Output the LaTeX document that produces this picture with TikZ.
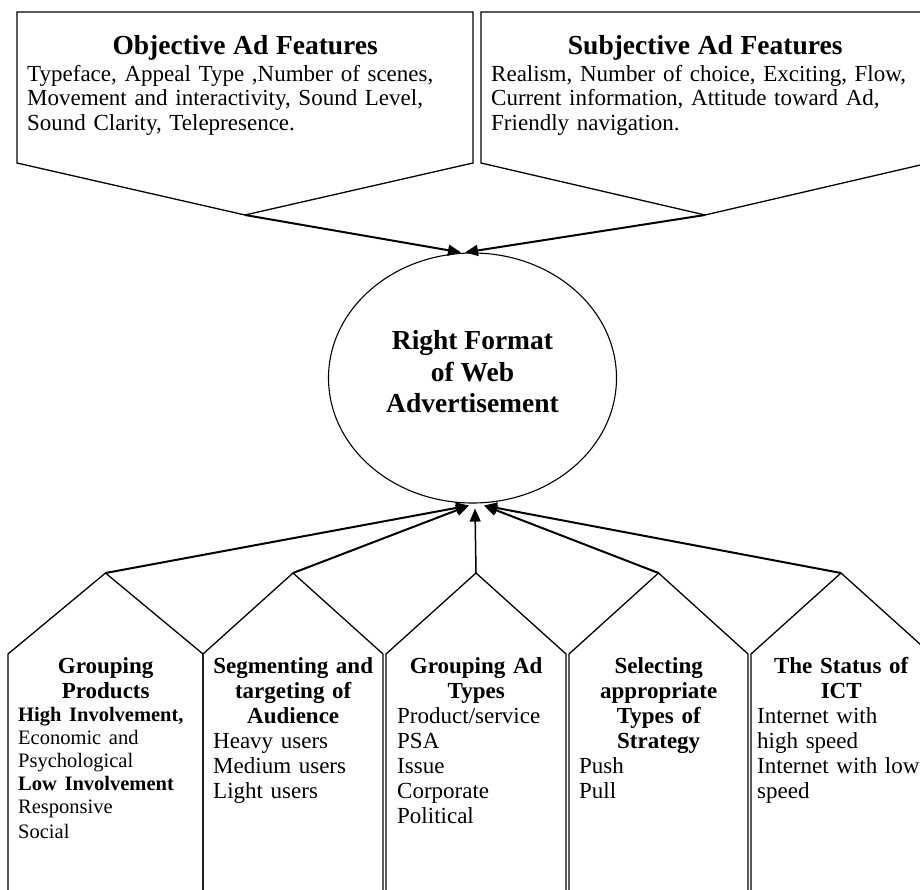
\documentclass[tikz,border=0pt]{standalone}
\usepackage{fontspec}
\setmainfont{Liberation Serif}
\usepackage{tikz}
\usetikzlibrary{arrows.meta,shapes.geometric}

\newcommand{\boxttl}[1]{{\centering\bfseries #1\par}}

\begin{document}
\begin{tikzpicture}[x=1pt, y=-1pt,
    boxline/.style={line width=1.3pt, line join=miter},
    arr/.style={line width=2pt, -{Triangle[length=13pt,width=11pt]}},
    txt/.style={anchor=north west, inner sep=0pt, align=left, font=\fontsize{23}{25}\selectfont},
    toptxt/.style={txt, font=\fontsize{23}{24.5}\selectfont}]
    \useasboundingbox (0,0) rectangle (920,890);
    \clip (0,0) rectangle (920,890);

    \draw[boxline] (17,163) -- (17,12) -- (473,12) -- (473,163) -- (245,215) -- cycle;
    \draw[boxline] (481,163) -- (481,12) -- (929,12) -- (929,163) -- (705,215) -- cycle;
    \coordinate (objpt) at (245,215);
    \coordinate (subjpt) at (705,215);

    \foreach \l/\r/\n in {8/203/a, 203/383/b, 386/566/c, 569/748/d, 751/931/e} {
        \draw[boxline] (\l,900) -- (\l,654) -- ({(\l+\r)/2},573) -- (\r,654) -- (\r,900);
        \coordinate (top\n) at ({(\l+\r)/2},573);
    }

    \node[draw, ellipse, line width=1.1pt, minimum width=288pt, minimum height=250pt, inner sep=0pt] (fmt) at (472.5,378) {};
    \node[align=center, inner sep=0pt, font=\bfseries\fontsize{27.5}{31.5}\selectfont] (fmtlbl) at ([yshift=6pt]fmt.center) {Right Format\\of Web\\Advertisement};

    \node[toptxt, text width=436pt] (objtxt) at (27,35) {\boxttl{\fontsize{27.5}{30}\selectfont Objective Ad Features}\vspace{2.5pt}Typeface, Appeal Type ,Number of scenes,\\Movement and interactivity, Sound Level,\\Sound Clarity, Telepresence.};
    \node[toptxt, text width=428pt] (subjtxt) at (491,35) {\boxttl{\fontsize{27.5}{30}\selectfont Subjective Ad Features}\vspace{2.5pt}Realism, Number of choice, Exciting, Flow,\\Current information, Attitude toward Ad,\\Friendly navigation.};

    \node[txt, text width=175pt] (grptxt) at (18,657) {\boxttl{Grouping\\Products}\fontsize{20.5}{23}\selectfont\textbf{High Involvement,}\\Economic and\\Psychological\\\textbf{Low Involvement}\\Responsive\\Social};
    \node[txt, text width=160pt] (segtxt) at (213,657) {\boxttl{Segmenting and\\targeting of\\Audience}Heavy users\\Medium users\\Light users};
    \node[txt, text width=158pt] (typtxt) at (397,657) {\boxttl{Grouping Ad\\Types}Product/service\\PSA\\Issue\\Corporate\\Political};
    \node[txt, text width=159pt] (strtxt) at (579,657) {\boxttl{Selecting\\appropriate\\Types of\\Strategy}Push\\Pull};
    \node[txt, text width=168pt] (ictxt) at (757,657) {\boxttl{The Status of\\ICT}Internet with\\high speed\\\mbox{Internet with low}\\speed};

    \coordinate (tipnw) at ([xshift=-11.5pt]fmt.north);
    \coordinate (tipne) at ([xshift=-7.5pt]fmt.north);
    \coordinate (tipsw) at ([xshift=-3.5pt,yshift=-2pt]fmt.south);
    \coordinate (tips) at ([xshift=2.5pt,yshift=-5pt]fmt.south);
    \coordinate (tipse) at ([xshift=11.5pt,yshift=-2pt]fmt.south);

    \draw[arr] (objpt) -- (tipnw);
    \draw[arr] (subjpt) -- (tipne);
    \foreach \n/\t in {a/tipsw, b/tipsw, d/tipse, e/tipse}
        \draw[arr] (top\n) -- (\t);
    \draw[arr, line width=1.5pt] (topc) -- (tips);
\end{tikzpicture}
\end{document}
